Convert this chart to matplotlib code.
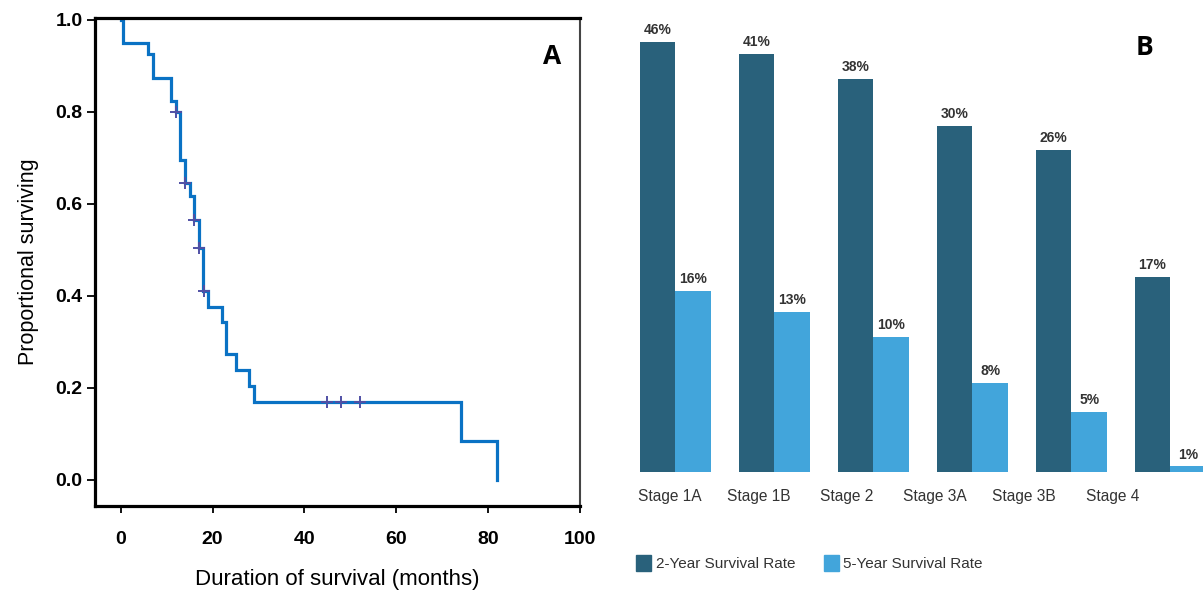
import numpy as np
import matplotlib
matplotlib.use("Agg")
import matplotlib.pyplot as plt
from matplotlib.patches import Patch

# ---------------- Panel A data (Kaplan-Meier) ----------------
km_times = [0, 0.5, 6, 7, 11, 12, 13, 14, 15, 16, 17, 18, 19, 22, 23, 25, 28, 29, 74, 82]
km_surv = [1.0, 0.95, 0.925, 0.873, 0.824, 0.80, 0.696, 0.645, 0.616, 0.564, 0.505,
           0.41, 0.375, 0.343, 0.273, 0.239, 0.204, 0.170, 0.085, 0.0]
censor_times = [12.05, 14.05, 16.05, 17.05, 18.05, 45, 48, 52]
x_ticks_a = [0, 20, 40, 60, 80, 100]
y_ticks_a = [0.0, 0.2, 0.4, 0.6, 0.8, 1.0]

# ---------------- Panel B data (bars) ----------------
stages = ["Stage 1A", "Stage 1B", "Stage 2", "Stage 3A", "Stage 3B", "Stage 4"]
two_year_height = [91.1, 88.6, 83.3, 73.3, 68.2, 41.3]
five_year_height = [38.3, 33.9, 28.6, 18.9, 12.7, 1.2]
two_year_label = ["46%", "41%", "38%", "30%", "26%", "17%"]
five_year_label = ["16%", "13%", "10%", "8%", "5%", "1%"]

W, H = 1203, 599
fig = plt.figure(figsize=(W / 100, H / 100), dpi=100)

# ---------------- Panel A ----------------
axA = fig.add_axes([95 / W, 1 - 506 / H, (580 - 95) / W, (506 - 18) / H])
blue = "#0A72C4"
axA.step(km_times, km_surv, where="post", color=blue, lw=2.3, solid_joinstyle="miter")
t_arr = np.array(km_times)
s_arr = np.array(km_surv)
cens_y = s_arr[np.searchsorted(t_arr, censor_times, side="right") - 1]
axA.plot(censor_times, cens_y, linestyle="none", marker="+", color="#5050A5",
         markersize=8, mew=1.4)
axA.set_xlim(-5.6, 100)
axA.set_ylim(-0.057, 1.004)
axA.set_xticks(x_ticks_a)
axA.set_yticks(y_ticks_a)
axA.set_yticklabels([f"{v:.1f}" for v in y_ticks_a])
for lab in axA.get_xticklabels() + axA.get_yticklabels():
    lab.set_fontweight("bold")
    lab.set_fontfamily("Liberation Sans")
axA.tick_params(axis="x", direction="out", length=5, width=1.3, labelsize=14, pad=13)
axA.tick_params(axis="y", direction="out", length=6, width=1.3, labelsize=14, pad=3)
for side in ["left", "bottom", "top"]:
    axA.spines[side].set_linewidth(2.3)
    axA.spines[side].set_color("black")
axA.spines["right"].set_linewidth(1.5)
axA.spines["right"].set_color("#444444")
axA.set_xlabel("Duration of survival (months)", fontsize=16, family="Liberation Sans",
               labelpad=15)
axA.set_ylabel("Proportional surviving", fontsize=15.5, family="Liberation Sans",
               labelpad=12)
fig.text(552 / W, 1 - 56 / H, "A", fontsize=19, fontweight="bold",
         ha="center", va="center", family="Open Sans")

# ---------------- Panel B ----------------
axB = fig.add_axes([620 / W, 1 - 472 / H, (W - 620) / W, 472 / H])
dark = "#29617B"
light = "#42A5DB"
x = np.arange(len(stages))
bw = 0.36
b1 = axB.bar(x - bw / 2, two_year_height, width=bw, color=dark, label="2-Year Survival Rate")
b2 = axB.bar(x + bw / 2, five_year_height, width=bw, color=light, label="5-Year Survival Rate")
for bars, labs in ((b1, two_year_label), (b2, five_year_label)):
    for rect, lab in zip(bars, labs):
        axB.annotate(lab, (rect.get_x() + rect.get_width() / 2, rect.get_height()),
                     xytext=(0, 8.5), textcoords="offset points", ha="center", va="center",
                     fontsize=10, fontweight="bold", color="#333333",
                     family="Liberation Sans")
axB.set_xlim(-0.56, 5.33)
axB.set_ylim(0, 100)
label_pos = -0.056 + 0.894 * x
axB.set_xticks(label_pos)
axB.set_xticklabels(stages, fontsize=11.2, color="#333333", family="Liberation Sans")
axB.tick_params(axis="x", length=0, pad=12)
axB.set_yticks([])
for s in axB.spines.values():
    s.set_visible(False)
fig.text(1145 / W, 1 - 47.5 / H, "B", fontsize=19, fontweight="bold",
         ha="center", va="center", family="Open Sans")

handles = [Patch(color=dark), Patch(color=light)]
fig.legend(handles, ["2-Year Survival Rate", "5-Year Survival Rate"],
           loc="center left", bbox_to_anchor=(636 / W, 1 - 563 / H), ncol=2,
           frameon=False, borderpad=0, borderaxespad=0, handlelength=1.0,
           handleheight=1.25, handletextpad=0.3, columnspacing=1.85,
           prop={"family": "Liberation Sans", "size": 11},
           labelcolor="#333333")

fig.savefig("out.png", dpi=100)
